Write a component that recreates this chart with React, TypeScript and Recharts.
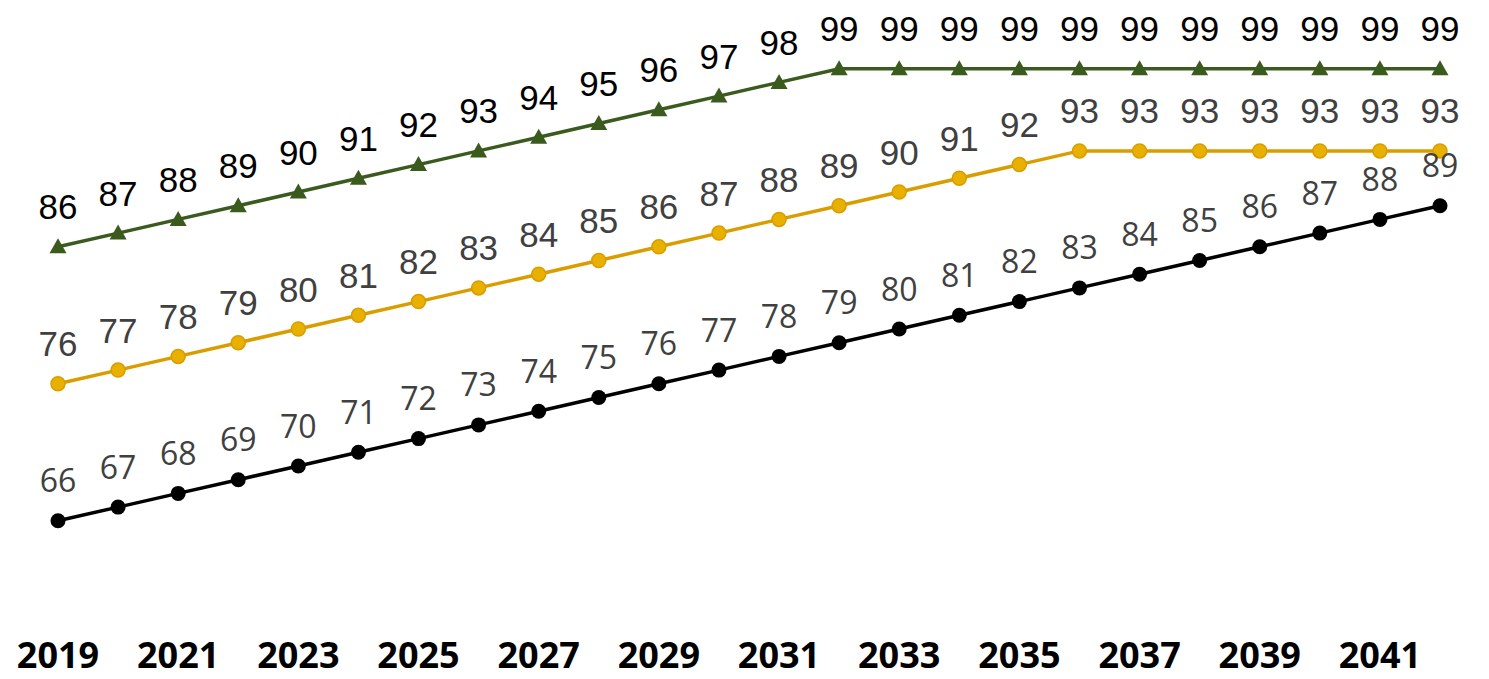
import React from "react";
import { LineChart, Line, XAxis, YAxis, LabelList } from "recharts";

const years = [2019, 2020, 2021, 2022, 2023, 2024, 2025, 2026, 2027, 2028, 2029, 2030, 2031, 2032, 2033, 2034, 2035, 2036, 2037, 2038, 2039, 2040, 2041, 2042];
const greenSeries = [86, 87, 88, 89, 90, 91, 92, 93, 94, 95, 96, 97, 98, 99, 99, 99, 99, 99, 99, 99, 99, 99, 99, 99];
const yellowSeries = [76, 77, 78, 79, 80, 81, 82, 83, 84, 85, 86, 87, 88, 89, 90, 91, 92, 93, 93, 93, 93, 93, 93, 93];
const blackSeries = [66, 67, 68, 69, 70, 71, 72, 73, 74, 75, 76, 77, 78, 79, 80, 81, 82, 83, 84, 85, 86, 87, 88, 89];
const tickYears = [2019, 2021, 2023, 2025, 2027, 2029, 2031, 2033, 2035, 2037, 2039, 2041];

const data = years.map((y, i) => ({
  year: y,
  green: greenSeries[i],
  yellow: yellowSeries[i],
  black: blackSeries[i],
}));

const GREEN = "#3A5A1E";
const YELLOW_LINE = "#DA9D00";
const YELLOW_FILL = "#E8B000";

const makeLabel = (font: string, size: number, color: string, baseOffset: number) => (props: any) => {
  const { x, y, value } = props;
  return (
    <text x={x} y={y - baseOffset} textAnchor="middle" fontFamily={font} fontSize={size} fill={color}>
      {value}
    </text>
  );
};

const TriangleDot = (props: any) => {
  const { cx, cy, index } = props;
  if (cx == null || cy == null) return null;
  return (
    <path key={`tri-${index}`} d={`M${cx},${cy - 8.5} L${cx + 8.5},${cy + 6.5} L${cx - 8.5},${cy + 6.5} Z`} fill={GREEN} />
  );
};

const XTick = (props: any) => {
  const { x, y, payload } = props;
  return (
    <text x={x} y={y + 57} textAnchor="middle" fontFamily="'Open Sans', sans-serif" fontWeight={700} fontSize={36} fill="#000">
      {payload.value}
    </text>
  );
};

export default function App() {
  return (
    <div style={{ position: "absolute", left: 0, top: 0, width: 1489, height: 679, background: "#fff" }}>
      <LineChart width={1489} height={679} data={data} margin={{ top: 55, right: 49, bottom: 0, left: 58 }}>
        <XAxis
          dataKey="year"
          type="number"
          domain={[2019, 2042]}
          ticks={tickYears}
          axisLine={false}
          tickLine={false}
          height={76}
          tick={<XTick />}
          interval={0}
        />
        <YAxis hide domain={[60, 100]} />
        <Line
          dataKey="black"
          stroke="#000"
          strokeWidth={3.5}
          isAnimationActive={false}
          dot={{ r: 7.5, fill: "#000", stroke: "#000", strokeWidth: 0 }}
        >
          <LabelList dataKey="black" content={makeLabel("'Open Sans', sans-serif", 32, "#404040", 28.5)} />
        </Line>
        <Line
          dataKey="yellow"
          stroke={YELLOW_LINE}
          strokeWidth={3.5}
          isAnimationActive={false}
          dot={{ r: 7, fill: YELLOW_FILL, stroke: YELLOW_LINE, strokeWidth: 1.5 }}
        >
          <LabelList dataKey="yellow" content={makeLabel("'Liberation Sans', Arial, sans-serif", 35, "#404040", 27.5)} />
        </Line>
        <Line
          dataKey="green"
          stroke={GREEN}
          strokeWidth={3.5}
          isAnimationActive={false}
          dot={<TriangleDot />}
        >
          <LabelList dataKey="green" content={makeLabel("'Liberation Sans', Arial, sans-serif", 35, "#000", 27.5)} />
        </Line>
      </LineChart>
    </div>
  );
}
